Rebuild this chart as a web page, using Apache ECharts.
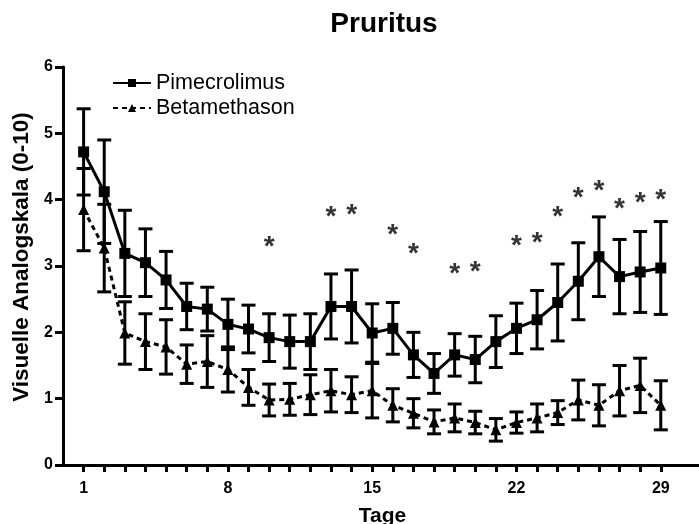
<!DOCTYPE html>
<html>
<head>
<meta charset="utf-8">
<script src="https://cdn.jsdelivr.net/npm/echarts@6/dist/echarts.min.js"></script>
<style>html,body{margin:0;padding:0;background:#fff;}#c{width:699px;height:524px;}</style>
</head>
<body>
<div id="c"></div>
<script>
const days = [1,2,3,4,5,6,7,8,9,10,11,12,13,14,15,16,17,18,19,20,21,22,23,24,25,26,27,28,29];
const pimecrolimus = [4.72,4.12,3.19,3.05,2.79,2.39,2.35,2.12,2.05,1.92,1.86,1.86,2.39,2.39,1.99,2.06,1.66,1.38,1.66,1.59,1.86,2.06,2.19,2.45,2.77,3.14,2.84,2.91,2.97];
const pimecrolimusErr = [0.65,0.78,0.65,0.51,0.43,0.35,0.33,0.38,0.36,0.36,0.40,0.42,0.49,0.55,0.44,0.39,0.34,0.30,0.32,0.35,0.39,0.38,0.44,0.58,0.58,0.60,0.56,0.61,0.70];
const betamethason = [3.85,3.27,1.99,1.86,1.78,1.52,1.56,1.44,1.17,0.98,0.99,1.06,1.12,1.06,1.12,0.90,0.78,0.65,0.71,0.64,0.53,0.64,0.71,0.79,0.98,0.90,1.12,1.20,0.90];
const betamethasonErr = [0.62,0.66,0.47,0.42,0.41,0.29,0.39,0.34,0.27,0.24,0.24,0.30,0.32,0.27,0.41,0.25,0.22,0.18,0.21,0.17,0.17,0.16,0.21,0.18,0.30,0.31,0.38,0.41,0.37];
const starDays = [10,13,14,16,17,19,20,22,23,24,25,26,27,28,29];
const starLevels = [3.37,3.82,3.86,3.56,3.26,2.97,2.99,3.39,3.43,3.82,4.11,4.21,3.95,4.03,4.08];
const xLabelDays = [1,8,15,22,29];

const FONT = 'Liberation Sans, Arial, sans-serif';

function errData(vals, errs){ return days.map((d,i)=>[d, vals[i], errs[i]]); }
function errRender(params, api){
  const x = api.value(0), m = api.value(1), e = api.value(2);
  const top = api.coord([x, m + e]);
  const bot = api.coord([x, m - e]);
  const hw = 7;
  const st = {stroke:'#000', lineWidth:3};
  return {type:'group', children:[
    {type:'line', shape:{x1:top[0], y1:top[1], x2:bot[0], y2:bot[1]}, style:st},
    {type:'line', shape:{x1:top[0]-hw, y1:top[1], x2:top[0]+hw, y2:top[1]}, style:st},
    {type:'line', shape:{x1:bot[0]-hw, y1:bot[1], x2:bot[0]+hw, y2:bot[1]}, style:st}
  ]};
}

const chart = echarts.init(document.getElementById('c'), null, {renderer:'canvas'});
chart.setOption({
  animation:false,
  backgroundColor:'#fff',
  title:{text:'Pruritus', left:379, top:5, textAlign:'center',
    textStyle:{fontFamily:FONT, fontSize:28, fontWeight:'bold', color:'#000'}},
  legend:{orient:'vertical', left:112, top:72, padding:0, itemWidth:38, itemHeight:10, itemGap:3,
    textStyle:{fontFamily:FONT, fontSize:21.5, color:'#000'},
    data:['Pimecrolimus','Betamethason']},
  grid:{left:63, top:67, width:639, height:398, outerBoundsMode:'none', containLabel:false},
  xAxis:{type:'value', min:0, max:31,
    name:'Tage', nameLocation:'middle', nameGap:41,
    nameTextStyle:{fontFamily:FONT, fontSize:21, fontWeight:'bold', color:'#000'},
    axisLine:{lineStyle:{color:'#000', width:3}},
    axisTick:{show:true, length:7, lineStyle:{color:'#000', width:3}, customValues:days},
    axisLabel:{fontFamily:FONT, fontSize:16, fontWeight:'bold', color:'#000', margin:16, customValues:xLabelDays},
    splitLine:{show:false}},
  yAxis:{type:'value', min:0, max:6, interval:1,
    name:'Visuelle Analogskala (0-10)', nameLocation:'middle', nameGap:23,
    nameTextStyle:{fontFamily:FONT, fontSize:22.5, fontWeight:'bold', color:'#000', padding:[0,0,0,18]},
    axisLine:{show:true, lineStyle:{color:'#000', width:3}},
    axisTick:{show:true, length:8, lineStyle:{color:'#000', width:3}},
    axisLabel:{fontFamily:FONT, fontSize:16, fontWeight:'bold', color:'#000', margin:10},
    splitLine:{show:false}},
  series:[
    {type:'custom', name:'pimErr', renderItem:errRender, data:errData(pimecrolimus, pimecrolimusErr), z:2, silent:true},
    {type:'custom', name:'betaErr', renderItem:errRender, data:errData(betamethason, betamethasonErr), z:2, silent:true},
    {type:'line', name:'Pimecrolimus', data:days.map((d,i)=>[d, pimecrolimus[i]]),
      symbol:'rect', symbolSize:11, itemStyle:{color:'#000'},
      lineStyle:{color:'#000', width:3}, z:3},
    {type:'line', name:'Betamethason', data:days.map((d,i)=>[d, betamethason[i]]),
      symbol:'triangle', symbolSize:11, itemStyle:{color:'#000'},
      lineStyle:{color:'#000', width:3, type:[5,4]}, z:3},
    {type:'scatter', name:'stars', data:starDays.map((d,i)=>[d, starLevels[i]]),
      symbol:'circle', symbolSize:1, itemStyle:{color:'rgba(0,0,0,0)'}, silent:true,
      label:{show:true, position:'inside', formatter:'*', fontFamily:FONT, fontSize:28, fontWeight:'bold', color:'#000', offset:[0,6]}}
  ]
});
</script>
</body>
</html>
